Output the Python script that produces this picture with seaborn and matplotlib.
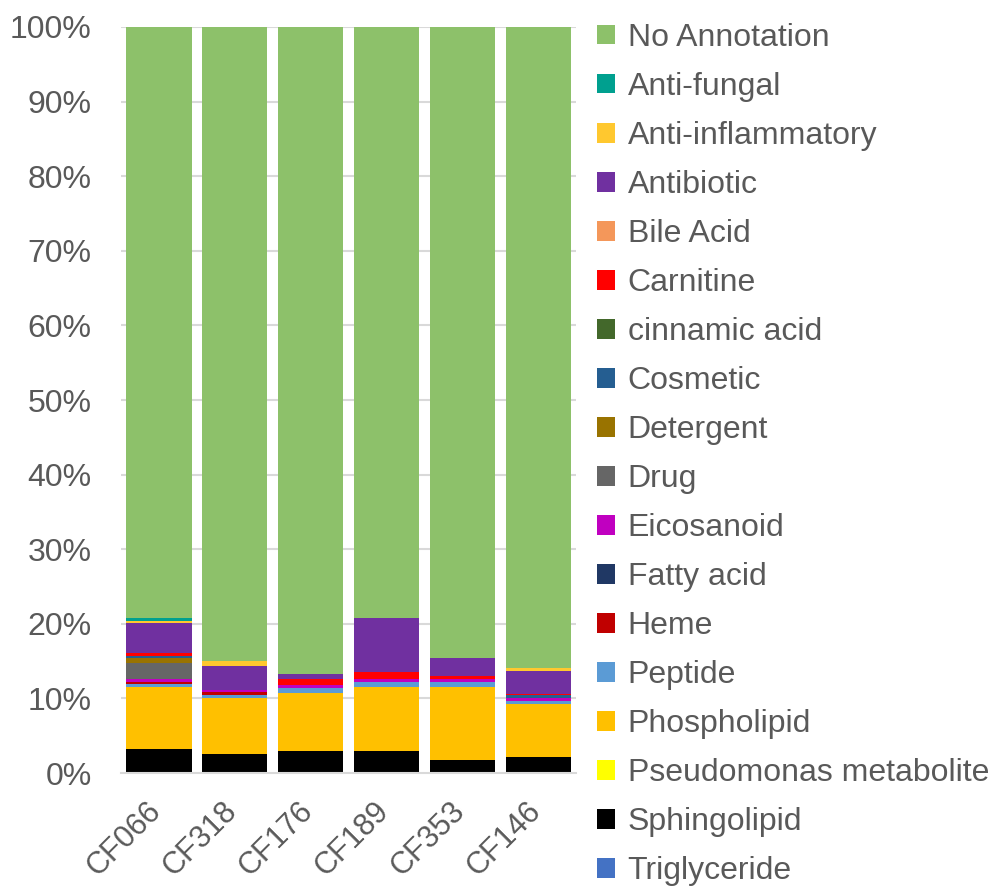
import matplotlib
matplotlib.use("Agg")
import matplotlib.pyplot as plt
import matplotlib.transforms as mtransforms
from matplotlib.patches import Patch
import pandas as pd
import seaborn as sns

samples = ["CF066", "CF318", "CF176", "CF189", "CF353", "CF146"]

# percentages per class, in sample order
triglyceride = [0.0, 0.0, 0.0, 0.0, 0.0, 0.0]
sphingolipid = [3.2, 2.5, 2.9, 2.9, 1.7, 2.2]
pseudomonas_metabolite = [0.0, 0.0, 0.0, 0.0, 0.0, 0.0]
phospholipid = [8.3, 7.6, 7.8, 8.6, 9.8, 7.1]
peptide = [0.45, 0.3, 0.7, 0.7, 0.7, 0.35]
heme = [0.3, 0.4, 0.0, 0.0, 0.0, 0.0]
fatty_acid = [0.0, 0.0, 0.0, 0.0, 0.0, 0.0]
eicosanoid = [0.35, 0.35, 0.4, 0.4, 0.4, 0.4]
drug = [2.1, 0.0, 0.0, 0.0, 0.0, 0.0]
detergent = [0.7, 0.0, 0.0, 0.0, 0.0, 0.0]
cosmetic = [0.3, 0.0, 0.0, 0.0, 0.0, 0.35]
cinnamic_acid = [0.0, 0.0, 0.0, 0.0, 0.0, 0.0]
carnitine = [0.45, 0.0, 0.8, 1.0, 0.35, 0.15]
bile_acid = [0.0, 0.0, 0.0, 0.0, 0.0, 0.0]
antibiotic = [3.9, 3.2, 0.7, 7.2, 2.45, 3.05]
anti_inflammatory = [0.3, 0.67, 0.0, 0.0, 0.0, 0.5]
anti_fungal = [0.45, 0.0, 0.0, 0.0, 0.0, 0.0]
no_annotation = [79.2, 85.0, 86.7, 79.2, 84.6, 85.83]

# bottom -> top stacking order
layers = [
    ("Triglyceride", triglyceride, "#4472C4"),
    ("Sphingolipid", sphingolipid, "#000000"),
    ("Pseudomonas metabolite", pseudomonas_metabolite, "#FFFF00"),
    ("Phospholipid", phospholipid, "#FFC000"),
    ("Peptide", peptide, "#5B9BD5"),
    ("Heme", heme, "#C00000"),
    ("Fatty acid", fatty_acid, "#203864"),
    ("Eicosanoid", eicosanoid, "#C000C0"),
    ("Drug", drug, "#666666"),
    ("Detergent", detergent, "#997300"),
    ("Cosmetic", cosmetic, "#255E91"),
    ("cinnamic acid", cinnamic_acid, "#43682B"),
    ("Carnitine", carnitine, "#FF0000"),
    ("Bile Acid", bile_acid, "#F4975A"),
    ("Antibiotic", antibiotic, "#7030A0"),
    ("Anti-inflammatory", anti_inflammatory, "#FFC82F"),
    ("Anti-fungal", anti_fungal, "#00A08F"),
    ("No Annotation", no_annotation, "#8DC16A"),
]

df = pd.DataFrame({name: vals for name, vals, _ in layers}, index=samples)
cum = df.cumsum(axis=1)
# normalise so every bar tops out at 100%
cum = cum.div(cum.iloc[:, -1], axis=0) * 100

sns.set_style("white")
plt.rcParams["font.family"] = ["Liberation Sans", "DejaVu Sans"]
text_color = "#595959"
grid_color = "#D9D9D9"

fig = plt.figure(figsize=(9.92, 8.91), dpi=100)
ax = fig.add_axes([0.122, 0.1324, 0.459, 0.8373])

ax.set_axisbelow(True)
for y in range(10, 101, 10):
    ax.axhline(y, color=grid_color, lw=1.5, zorder=0)

# draw cumulative heights from the top layer down so each one shows its band
for name, _, color in reversed(layers):
    plot_df = pd.DataFrame({"sample": samples, "value": cum[name].values})
    sns.barplot(
        data=plot_df, x="sample", y="value", order=samples,
        color=color, saturation=1, width=0.86, linewidth=0,
        errorbar=None, ax=ax, zorder=2,
    )

ax.set_ylim(0, 100)
ax.set_xlim(-0.5, 5.5)
ax.set_yticks(range(0, 101, 10))
ax.set_yticklabels([f"{v}%" for v in range(0, 101, 10)])
ax.set_xlabel("")
ax.set_ylabel("")
ax.tick_params(axis="y", labelsize=23, colors=text_color, length=0, pad=21)
ax.tick_params(axis="x", labelsize=22, colors=text_color, length=0, pad=24)
shift = mtransforms.ScaledTranslation(-2 / 100, 0, fig.dpi_scale_trans)
for lab in ax.get_xticklabels():
    lab.set_rotation(45)
    lab.set_ha("right")
    lab.set_va("center")
    lab.set_rotation_mode("anchor")
    lab.set_transform(lab.get_transform() + shift)

for side in ["top", "right", "left"]:
    ax.spines[side].set_visible(False)
ax.spines["bottom"].set_color(grid_color)
ax.spines["bottom"].set_linewidth(1.5)
ax.spines["bottom"].set_zorder(3)

handles = [Patch(facecolor=c, edgecolor="none", label=n) for n, _, c in reversed(layers)]
fig.legend(
    handles=handles, loc="upper left", bbox_to_anchor=(0.602, 0.974),
    frameon=False, fontsize=23, labelcolor=text_color,
    handlelength=0.55, handleheight=0.55, handletextpad=0.4,
    labelspacing=0.595, borderpad=0, borderaxespad=0,
)

fig.savefig("out.png", dpi=100)
